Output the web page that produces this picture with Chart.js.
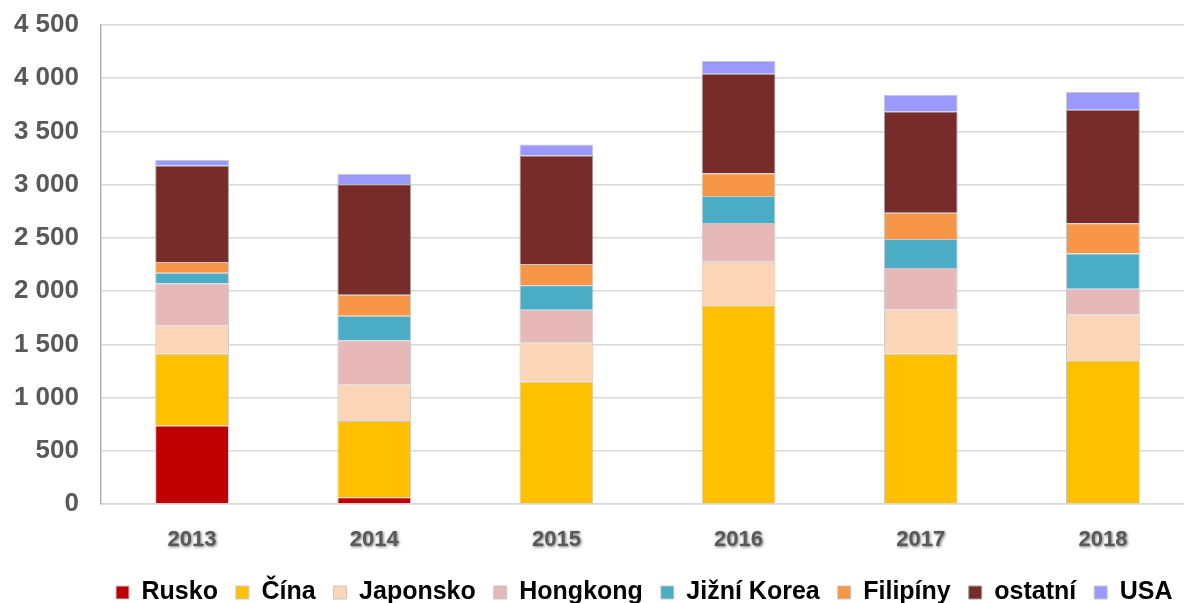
<!DOCTYPE html>
<html>
<head>
<meta charset="utf-8">
<script src="https://cdn.jsdelivr.net/npm/chart.js@4/dist/chart.umd.min.js"></script>
<style>
  html, body { margin: 0; padding: 0; background: #fff; overflow: hidden; }
  #wrap { width: 1200px; height: 640px; }
</style>
</head>
<body>
<div id="wrap"><canvas id="chart" width="1200" height="640"></canvas></div>
<script>
// data
const years = ['2013', '2014', '2015', '2016', '2017', '2018'];
const rusko    = [738, 63, 0, 0, 0, 0];
const cina     = [674, 716, 1149, 1868, 1412, 1350];
const japonsko = [268, 345, 371, 408, 418, 433];
const hongkong = [392, 415, 304, 364, 386, 239];
const korea    = [100, 229, 232, 254, 274, 332];
const filipiny = [101, 197, 198, 213, 247, 283];
const ostatni  = [907, 1039, 1020, 936, 951, 1067];
const usa      = [53, 97, 104, 119, 157, 166];
const yTicks = [0, 500, 1000, 1500, 2000, 2500, 3000, 3500, 4000, 4500];

const series = [
    { label: 'Rusko', data: rusko, color: '#c00000' },
    { label: 'Čína', data: cina, color: '#ffc000' },
    { label: 'Japonsko', data: japonsko, color: '#fbd5b5' },
    { label: 'Hongkong', data: hongkong, color: '#e6b9b8' },
    { label: 'Jižní Korea', data: korea, color: '#4bacc6' },
    { label: 'Filipíny', data: filipiny, color: '#f79646' },
    { label: 'ostatní', data: ostatni, color: '#772c2a' },
    { label: 'USA', data: usa, color: '#9999ff' }
];

const fmt = v => String(v).replace(/\B(?=(\d{3})+(?!\d))/g, ' ');

// shadowed x labels + legend start position
const tweaks = {
    id: 'tweaks',
    afterLayout(chart) {
        const lg = chart.legend;
        const pad = lg.options.labels.padding;
        const lineW = lg.lineWidths[0];
        const curStart = (lg.left + pad + lg.right - lineW) / 2;
        const dx = 116 - curStart;
        lg.left += dx;
        lg.right += dx;
        const xs = chart.scales.x;
        if (!xs._wrapped) {
            const orig = xs.drawLabels;
            xs.drawLabels = function (area) {
                const ctx = this.ctx;
                ctx.save();
                ctx.shadowColor = 'rgba(0,0,0,0.55)';
                ctx.shadowBlur = 3;
                ctx.shadowOffsetX = 1;
                ctx.shadowOffsetY = 1;
                orig.call(this, area);
                ctx.restore();
            };
            xs._wrapped = true;
        }
    }
};

new Chart(document.getElementById('chart'), {
    type: 'bar',
    data: {
        labels: years,
        datasets: series.map(s => ({
            label: s.label,
            data: s.data,
            backgroundColor: s.color,
            borderColor: s.label === 'ostatní' ? '#a0a0a0' : '#c8c8c8',
            borderWidth: 1,
            categoryPercentage: 1,
            barPercentage: 0.405
        }))
    },
    plugins: [tweaks],
    options: {
        responsive: false,
        animation: false,
        layout: { padding: { top: 25, right: 6, left: 0, bottom: 25 } },
        plugins: {
            tooltip: { enabled: false },
            legend: {
                position: 'bottom',
                labels: {
                    boxWidth: 13,
                    boxHeight: 13,
                    padding: 18,
                    color: '#000',
                    font: { family: 'Liberation Sans, Arial', size: 25, weight: 'bold' }
                }
            }
        },
        scales: {
            x: {
                stacked: true,
                afterFit: axis => { axis.height = 58; },
                grid: { display: false, drawTicks: false },
                border: { color: '#d9d9d9', width: 1.5 },
                ticks: {
                    color: '#595959',
                    padding: 23,
                    font: { family: 'Liberation Sans, Arial', size: 22, weight: 'bold' }
                }
            },
            y: {
                stacked: true,
                min: 0,
                max: 4500,
                afterBuildTicks: axis => { axis.ticks = yTicks.map(v => ({ value: v })); },
                afterFit: axis => { axis.width = 101; axis.paddingTop = 0; },
                grid: { color: '#d9d9d9', lineWidth: 1.5, drawTicks: false },
                border: { color: '#b0b0b0', width: 1.5 },
                ticks: {
                    color: '#595959',
                    padding: 22,
                    callback: v => fmt(v),
                    font: { family: 'Liberation Sans, Arial', size: 26, weight: 'bold' }
                }
            }
        }
    }
});
</script>
</body>
</html>
